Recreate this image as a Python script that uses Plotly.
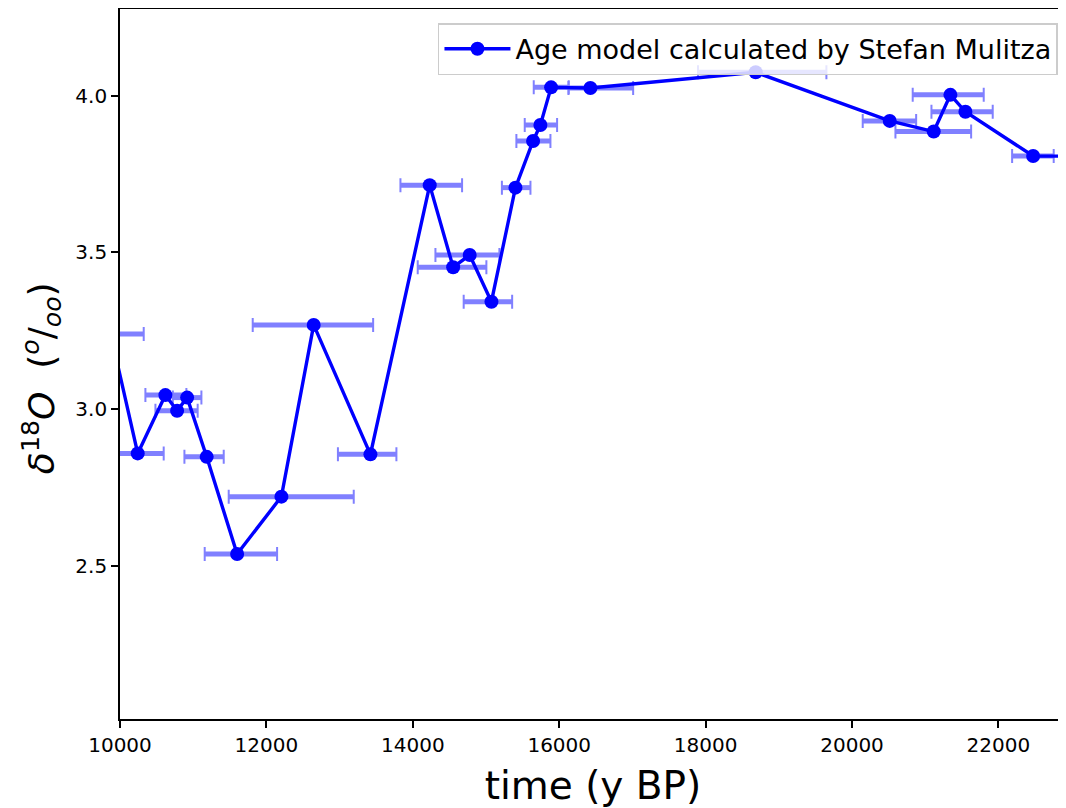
import plotly.graph_objects as go

# Data
age = [9873, 10242, 10620, 10780, 10917, 11184, 11600, 12205, 12646, 13421,
       14231, 14551, 14777, 15074, 15402, 15643, 15743, 15889, 16426, 18684,
       20515, 21116, 21344, 21549, 22474, 23300]
d18o = [3.239, 2.858, 3.044, 2.994, 3.036, 2.847, 2.537, 2.720, 3.268, 2.855,
        3.714, 3.452, 3.491, 3.342, 3.706, 3.855, 3.906, 4.026, 4.024, 4.074,
        3.919, 3.885, 4.002, 3.948, 3.807, 3.806]
age_err_minus = [450, 355, 273, 296, 195, 304, 443, 720, 833, 444,
                 400, 484, 468, 379, 185, 228, 214, 237, 300, 788,
                 369, 523, 515, 464, 287, 300]
age_err_plus = [451, 355, 287, 281, 195, 233, 546, 988, 812, 355,
                442, 454, 406, 283, 205, 237, 228, 241, 584, 966,
                361, 511, 455, 373, 281, 300]

x_ticks = [10000, 12000, 14000, 16000, 18000, 20000, 22000]
y_ticks = [2.5, 3.0, 3.5, 4.0]

FONT = "DejaVu Sans"
BAR_COLOR = "#8080ff"

fig = go.Figure()

# error bar bodies (thick, no caps)
fig.add_trace(go.Scatter(
    x=age, y=d18o, mode="markers",
    marker=dict(size=1, opacity=0),
    error_x=dict(type="data", symmetric=False, array=age_err_plus,
                 arrayminus=age_err_minus, color=BAR_COLOR,
                 thickness=5, width=0),
    showlegend=False, hoverinfo="skip"))
# caps (thin)
fig.add_trace(go.Scatter(
    x=age, y=d18o, mode="markers",
    marker=dict(size=1, opacity=0),
    error_x=dict(type="data", symmetric=False, array=age_err_plus,
                 arrayminus=age_err_minus, color=BAR_COLOR,
                 thickness=2, width=7),
    showlegend=False, hoverinfo="skip"))

fig.add_trace(go.Scatter(
    x=age, y=d18o, mode="lines+markers",
    name="Age model calculated by Stefan Mulitza",
    line=dict(color="#0000ff", width=3.4),
    marker=dict(color="#0000ff", size=14, line=dict(width=0)),
))

fig.update_layout(
    width=1058, height=800,
    margin=dict(l=112, r=0, t=1, b=89),
    paper_bgcolor="white", plot_bgcolor="white",
    font=dict(family=FONT, color="black", size=20),
    showlegend=True,
    legend=dict(x=0.9915, y=0.98, xanchor="right", yanchor="top",
                bgcolor="rgba(255,255,255,0.8)", bordercolor="#cccccc",
                borderwidth=1.5, itemwidth=66,
                font=dict(family=FONT, size=27)),
    annotations=[dict(
        text="<i>δ</i><sup>18</sup><i>O</i>  (<sup><i>o</i></sup>/<sub><i>oo</i></sub>)",
        xref="paper", yref="paper", x=-0.0825, y=0.480,
        xanchor="center", yanchor="middle", textangle=-90, showarrow=False,
        font=dict(family=FONT, size=36, color="black"))],
)

fig.update_xaxes(
    range=[10000, 22923], tickvals=x_ticks,
    ticktext=[str(v) for v in x_ticks],
    showgrid=False, zeroline=False,
    showline=True, linecolor="black", linewidth=1.7, mirror=True,
    ticks="outside", ticklen=7, tickwidth=1.6, tickcolor="black",
    tickfont=dict(family=FONT, size=20),
    title=dict(text="time (y BP)", font=dict(family=FONT, size=39), standoff=19),
)
fig.update_yaxes(
    range=[2.0105, 4.276], tickvals=y_ticks,
    ticktext=["%.1f" % v for v in y_ticks],
    showgrid=False, zeroline=False,
    showline=True, linecolor="black", linewidth=1.7, mirror=False,
    ticks="outside", ticklen=7, tickwidth=1.6, tickcolor="black",
    tickfont=dict(family=FONT, size=20),
)

fig.write_html("out.html")
